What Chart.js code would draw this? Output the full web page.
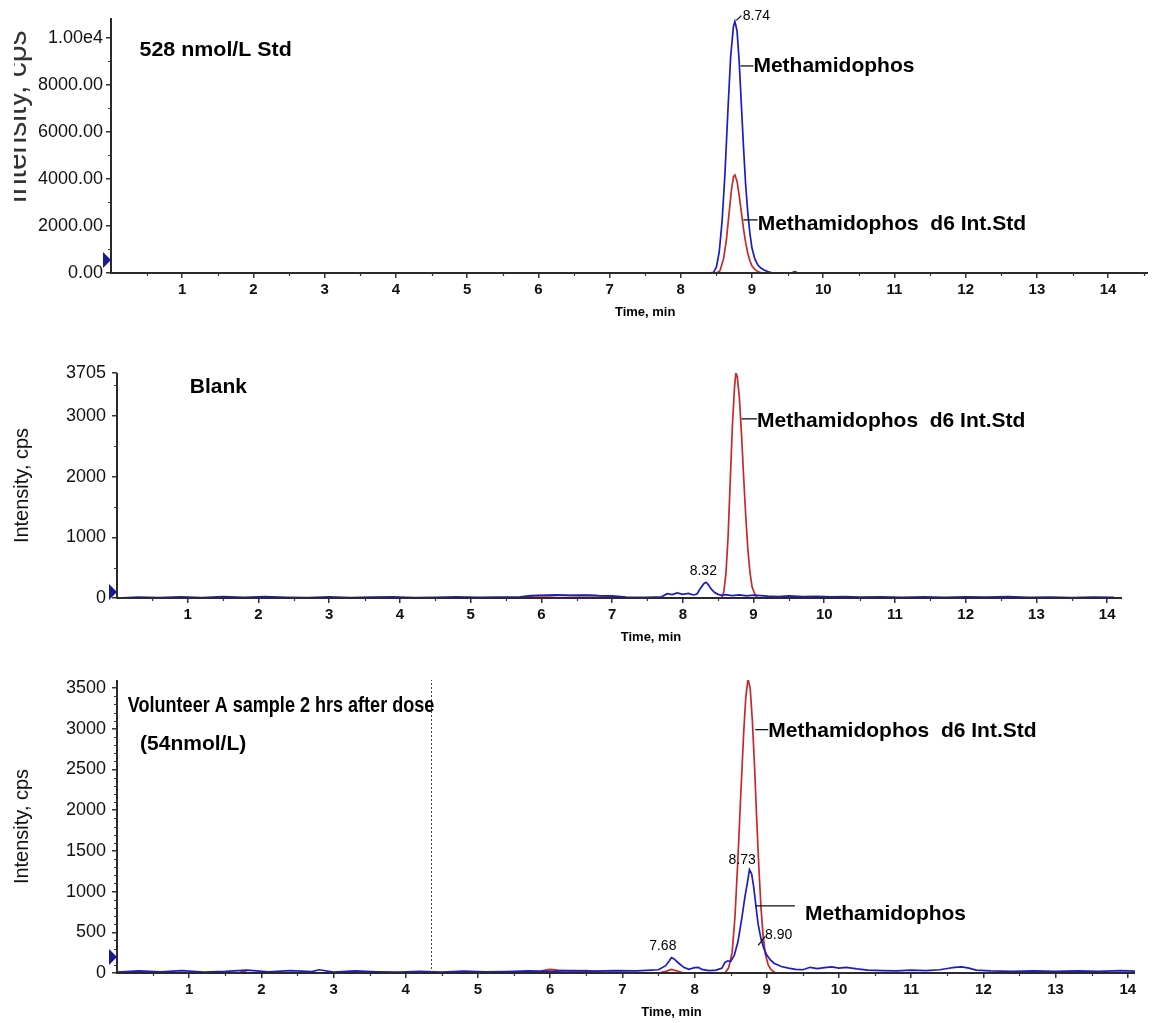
<!DOCTYPE html>
<html><head><meta charset="utf-8">
<script src="https://cdn.jsdelivr.net/npm/chart.js@4.4.1/dist/chart.umd.min.js"></script>
<style>
html,body{margin:0;padding:0;background:#fff;width:1158px;height:1023px;overflow:hidden}
.p{position:absolute;left:0;width:1158px}
</style></head><body>
<div class="p" style="top:0;height:322px"><canvas id="c1"></canvas></div>
<div class="p" style="top:322px;height:330px"><canvas id="c2"></canvas></div>
<div class="p" style="top:652px;height:371px"><canvas id="c3"></canvas></div>
<script>
// ---------------- DATA ----------------
const timeTicks = [1,2,3,4,5,6,7,8,9,10,11,12,13,14];

// Panel 1: 528 nmol/L Std
const stdMethTime = [0, 2.0, 4.0, 6.0, 8.0, 8.40, 8.46, 8.5, 8.54, 8.58, 8.62, 8.66, 8.7, 8.74, 8.76, 8.79, 8.82, 8.85, 8.88, 8.91, 8.94, 8.97, 9.0, 9.04, 9.08, 9.12, 9.17, 9.22, 9.28, 9.32, 9.55, 9.6, 9.65, 11.0, 13.0, 14.56];
const stdMethIntensity = [0, 0, 0, 0, 0, 0, 30, 250, 900, 2200, 4200, 6800, 9200, 10500, 10700, 10300, 9000, 7200, 5400, 3800, 2600, 1700, 1050, 600, 350, 220, 130, 60, 10, 0, 0, 60, 0, 0, 0, 0];
const stdD6Time = [0, 4.0, 8.0, 8.5, 8.55, 8.6, 8.64, 8.68, 8.71, 8.74, 8.76, 8.79, 8.82, 8.85, 8.88, 8.91, 8.94, 8.97, 9.0, 9.04, 9.08, 9.12, 9.16, 12.0, 14.56];
const stdD6Intensity = [0, 0, 0, 0, 100, 600, 1400, 2600, 3500, 4100, 4170, 3900, 3300, 2600, 1900, 1300, 850, 520, 300, 150, 60, 15, 0, 0, 0];
const stdYTicks = [0, 2000, 4000, 6000, 8000, 10000];
const stdYLabels = ['0.00', '2000.00', '4000.00', '6000.00', '8000.00', '1.00e4'];

// Panel 2: Blank
const blankMethTime = [0,0.3,0.6,0.9,1.2,1.5,1.8,2.1,2.4,2.7, 3.0,3.3,3.6,3.9,4.2,4.5,4.8,5.1,5.4,5.7, 5.85,6.0,6.2,6.4,6.6,6.8,7.0,7.2,7.5,7.7, 7.78,7.85,7.92,8.0,8.08,8.15,8.2,8.25,8.3,8.33, 8.36,8.4,8.45,8.5,8.55,8.6,8.7,8.8,8.9,9.0, 9.1,9.2,9.35,9.5,9.7,9.9,10.1,10.3,10.5,10.8, 11.1,11.4,11.7,12.0,12.3,12.6,12.9,13.2,13.5,13.8, 14.1];
const blankMethIntensity = [0,15,5,20,8,25,10,22,12,6, 18,8,14,20,5,12,18,9,15,20, 40,45,50,42,48,38,35,15,12,20, 70,55,85,60,75,50,65,160,240,260, 220,150,90,60,45,55,40,50,35,48, 40,30,25,35,22,28,18,25,15,20, 12,18,10,20,15,22,10,16,8,14, 10];
const blankD6Time = [0, 5.7, 5.8, 5.95, 6.1, 6.3, 6.5, 6.7, 6.9, 7.05, 7.2, 8.55, 8.58, 8.61, 8.64, 8.67, 8.7, 8.73, 8.75, 8.77, 8.8, 8.83, 8.86, 8.89, 8.92, 8.95, 8.98, 9.02, 9.06, 14.2];
const blankD6Intensity = [0, 0, 25, 40, 35, 45, 38, 42, 30, 20, 0, 0, 100, 400, 1000, 1900, 2800, 3450, 3705, 3650, 3300, 2700, 2000, 1350, 800, 420, 180, 60, 0, 0];
const blankYTicks = [0, 1000, 2000, 3000, 3705];
const blankYLabels = ['0', '1000', '2000', '3000', '3705'];

// Panel 3: Volunteer A
const volMethTime = [0,0.3,0.6,0.9,1.2,1.5,1.8,2.1,2.4,2.7, 2.8,3.0,3.3,3.6,3.9,4.2,4.5,4.8,5.1,5.4, 5.7,6.0,6.3,6.6,6.9,7.2,7.4,7.5,7.6,7.65, 7.68,7.72,7.78,7.85,7.92,8.0,8.05,8.1,8.2,8.3, 8.38,8.42,8.46,8.5,8.55,8.6,8.65,8.7,8.73,8.76, 8.79,8.82,8.85,8.88,8.92,8.96,9.0,9.05,9.1,9.2, 9.3,9.4,9.5,9.6,9.7,9.8,9.9,10.0,10.1,10.25, 10.4,10.6,10.8,11.0,11.2,11.4,11.5,11.6,11.7,11.8, 11.9,12.1,12.4,12.7,13.0,13.3,13.6,13.9,14.1];
const volMethIntensity = [10,25,15,30,12,20,35,15,28,18, 40,12,25,15,10,20,12,22,15,18, 25,20,28,22,30,25,35,40,90,150, 190,170,120,70,45,65,70,45,30,35, 60,130,150,140,220,380,650,950,1100,1270, 1220,1050,820,600,420,300,220,160,120,80, 60,45,40,70,55,65,75,60,70,50, 35,30,25,35,30,40,55,70,75,60, 35,25,20,25,20,25,20,28,22];
const volD6Time = [0, 1.7, 1.75, 1.8, 5.8, 5.9, 6.0, 6.1, 6.3, 6.5, 6.7, 7.5, 7.6, 7.68, 7.76, 7.85, 8.42, 8.47, 8.52, 8.56, 8.6, 8.64, 8.68, 8.71, 8.74, 8.77, 8.8, 8.83, 8.86, 8.89, 8.92, 8.95, 8.98, 9.02, 9.06, 9.12, 14.1];
const volD6Intensity = [0, 0, 30, 0, 0, 30, 45, 35, 25, 30, 10, 0, 20, 45, 25, 0, 0, 60, 250, 700, 1400, 2200, 2950, 3400, 3610, 3500, 3100, 2550, 1900, 1300, 800, 450, 230, 100, 40, 0, 0];
const volYTicks = [0, 500, 1000, 1500, 2000, 2500, 3000, 3500];
const volYLabels = ['0', '500', '1000', '1500', '2000', '2500', '3000', '3500'];
const volCursorTime = 4.35;

// ---------------- STYLE / LAYOUT ----------------
const FONT = '"Liberation Sans", Arial, sans-serif';
const BLUE = '#1c1cc4';
const RED = '#c42a2a';
const BIG = 'bold 21px ' + FONT;
const SMALL = '14px ' + FONT;

const panels = [
  {
    id: 'c1', height: 322, area: {left: 111, top: 18, right: 1148, bottom: 273},
    xMax: 14.56, yMax: 10850, yTicks: stdYTicks, yLabels: stdYLabels, yMinor: 1000, yPad: 3,
    series: [{time: stdMethTime, values: stdMethIntensity, color: BLUE}, {time: stdD6Time, values: stdD6Intensity, color: RED}],
    marker: 13, xTitleAt: 7.5, yTitle: {font: '30px ' + FONT, color: '#333', x: 26, clip: 14, cy: 117},
    notes: [
      {text: '528 nmol/L Std', t: 0.4, v: 9490, font: 'bold 21px ' + FONT, align: 'left', sx: 1.02},
      {text: '8.74', t: 8.87, v: 10930, font: SMALL, align: 'left'},
      {text: 'Methamidophos', t: 9.02, v: 8800, font: BIG, align: 'left'},
      {text: 'Methamidophos  d6 Int.Std', t: 9.08, v: 2090, font: BIG, align: 'left'}
    ],
    leaders: [[8.78, 10750, 8.85, 10950], [8.84, 8810, 9.02, 8810], [8.88, 2260, 9.08, 2260]]
  },
  {
    id: 'c2', height: 330, area: {left: 117, top: 51, right: 1122, bottom: 276},
    xMax: 14.21, yMax: 3705, yTicks: blankYTicks, yLabels: blankYLabels, yMinor: 500, yPad: 6,
    series: [{time: blankMethTime, values: blankMethIntensity, color: BLUE}, {time: blankD6Time, values: blankD6Intensity, color: RED}],
    marker: 6, xTitleAt: 7.55, yTitle: {font: '20px ' + FONT, color: '#111', x: 28, clip: 0, cy: null},
    notes: [
      {text: 'Blank', t: 1.03, v: 3475, font: BIG, align: 'left'},
      {text: '8.32', t: 8.29, v: 445, font: SMALL, align: 'center'},
      {text: 'Methamidophos  d6 Int.Std', t: 9.05, v: 2915, font: BIG, align: 'left'}
    ],
    leaders: [[8.83, 2950, 9.05, 2950]]
  },
  {
    id: 'c3', height: 371, area: {left: 117, top: 28, right: 1135, bottom: 321},
    xMax: 14.1, yMax: 3600, yTicks: volYTicks, yLabels: volYLabels, yMinor: 100, yPad: 6,
    series: [{time: volMethTime, values: volMethIntensity, color: BLUE}, {time: volD6Time, values: volD6Intensity, color: RED}],
    marker: 16, xTitleAt: 7.68, yTitle: {font: '20px ' + FONT, color: '#111', x: 28, clip: 0, cy: null},
    cursor: volCursorTime,
    notes: [
      {text: 'Volunteer A sample 2 hrs after dose', t: 0.15, v: 3280, font: 'bold 22px ' + FONT, align: 'left', sx: 0.82},
      {text: '(54nmol/L)', t: 0.32, v: 2810, font: BIG, align: 'left'},
      {text: 'Methamidophos  d6 Int.Std', t: 9.02, v: 2970, font: BIG, align: 'left'},
      {text: 'Methamidophos', t: 9.53, v: 725, font: BIG, align: 'left'},
      {text: '8.73', t: 8.66, v: 1390, font: SMALL, align: 'center'},
      {text: '8.90', t: 8.975, v: 465, font: SMALL, align: 'left'},
      {text: '7.68', t: 7.56, v: 330, font: SMALL, align: 'center'}
    ],
    leaders: [[8.84, 2990, 9.02, 2990], [8.84, 825, 9.39, 825], [8.88, 340, 8.98, 450]]
  }
];

function overlay(cfg) {
  return {
    id: 'overlay_' + cfg.id,
    afterDatasetsDraw(chart) {
      const ctx = chart.ctx, xs = chart.scales.x, ys = chart.scales.y, a = chart.chartArea;
      const px = t => xs.getPixelForValue(t), py = v => ys.getPixelForValue(v);
      ctx.save();
      // cursor line
      if (cfg.cursor !== undefined) {
        ctx.strokeStyle = '#444'; ctx.lineWidth = 1; ctx.setLineDash([2, 2]);
        const cx = Math.round(px(cfg.cursor)) + 0.5;
        ctx.beginPath(); ctx.moveTo(cx, a.bottom); ctx.lineTo(cx, a.top); ctx.stroke();
        ctx.setLineDash([]);
      }
      // axes
      ctx.strokeStyle = '#2a2a2a'; ctx.lineWidth = 2;
      ctx.beginPath(); ctx.moveTo(a.left, a.top); ctx.lineTo(a.left, a.bottom); ctx.lineTo(a.right, a.bottom); ctx.stroke();
      // minor ticks
      ctx.lineWidth = 1.2; ctx.strokeStyle = '#333';
      ctx.beginPath();
      for (let t = 0.5; t < cfg.xMax; t += 1) { const x = Math.round(px(t)) + 0.5; ctx.moveTo(x, a.bottom); ctx.lineTo(x, a.bottom + 3); }
      for (let v = cfg.yMinor; v < cfg.yMax; v += cfg.yMinor) {
        if (cfg.yTicks.indexOf(v) >= 0) continue;
        const y = Math.round(py(v)) + 0.5; ctx.moveTo(a.left, y); ctx.lineTo(a.left - 3, y);
      }
      ctx.stroke();
      // marker triangle
      const my = a.bottom - cfg.marker;
      ctx.fillStyle = '#1a1a96';
      ctx.beginPath(); ctx.moveTo(a.left - 8, my - 8); ctx.lineTo(a.left, my); ctx.lineTo(a.left - 8, my + 8); ctx.closePath(); ctx.fill();
      // leaders
      ctx.strokeStyle = '#111'; ctx.lineWidth = 1.3;
      cfg.leaders.forEach(l => { ctx.beginPath(); ctx.moveTo(px(l[0]), py(l[1])); ctx.lineTo(px(l[2]), py(l[3])); ctx.stroke(); });
      // notes
      ctx.fillStyle = '#000'; ctx.textBaseline = 'middle';
      cfg.notes.forEach(n => {
        ctx.save();
        ctx.font = n.font; ctx.textAlign = n.align;
        ctx.translate(px(n.t), py(n.v));
        if (n.sx) ctx.scale(n.sx, 1);
        ctx.fillText(n.text, 0, 0);
        ctx.restore();
      });
      // x title
      ctx.font = 'bold 13px ' + FONT; ctx.textAlign = 'center'; ctx.textBaseline = 'middle';
      ctx.fillText('Time, min', px(cfg.xTitleAt), a.bottom + 39);
      // y title
      const yt = cfg.yTitle;
      ctx.save();
      ctx.translate(yt.x, yt.cy === null ? (a.top + a.bottom) / 2 : yt.cy);
      ctx.rotate(-Math.PI / 2);
      ctx.fillStyle = yt.color;
      ctx.font = yt.font; ctx.textAlign = 'center'; ctx.textBaseline = 'alphabetic';
      ctx.fillText('Intensity, cps', 0, 0);
      ctx.restore();
      if (yt.clip) { ctx.fillStyle = '#fff'; ctx.fillRect(0, 0, yt.clip, a.bottom); }
      ctx.restore();
    }
  };
}

function makePanel(cfg) {
  const H = cfg.height;
  return new Chart(document.getElementById(cfg.id), {
    type: 'line',
    data: {
      datasets: cfg.series.map(s => ({
        data: s.time.map((t, i) => ({x: t, y: s.values[i]})),
        borderColor: s.color, borderWidth: 1.7, pointRadius: 0, tension: 0, fill: false
      }))
    },
    options: {
      responsive: true, maintainAspectRatio: false, animation: false,
      layout: {padding: {left: 0, top: cfg.area.top, right: 1158 - cfg.area.right, bottom: 0}},
      plugins: {legend: {display: false}, tooltip: {enabled: false}},
      scales: {
        x: {
          type: 'linear', min: 0, max: cfg.xMax,
          afterFit: s => { s.height = H - cfg.area.bottom; },
          afterBuildTicks: s => { s.ticks = timeTicks.map(v => ({value: v})); },
          ticks: {font: {family: FONT, size: 15, weight: 'bold'}, color: '#111', padding: 3, maxRotation: 0, autoSkip: false},
          grid: {drawOnChartArea: false, drawTicks: true, tickLength: 5, color: '#333', lineWidth: 1.5},
          border: {display: false}
        },
        y: {
          type: 'linear', min: 0, max: cfg.yMax,
          afterFit: s => { s.width = cfg.area.left; },
          afterBuildTicks: s => { s.ticks = cfg.yTicks.map(v => ({value: v})); },
          ticks: {font: {family: FONT, size: 18}, color: '#111', padding: cfg.yPad, autoSkip: false,
                  callback: v => cfg.yLabels[cfg.yTicks.indexOf(v)]},
          grid: {drawOnChartArea: false, drawTicks: true, tickLength: 5, color: '#333', lineWidth: 1.5},
          border: {display: false}
        }
      }
    },
    plugins: [overlay(cfg)]
  });
}
panels.forEach(makePanel);
</script>
</body></html>
